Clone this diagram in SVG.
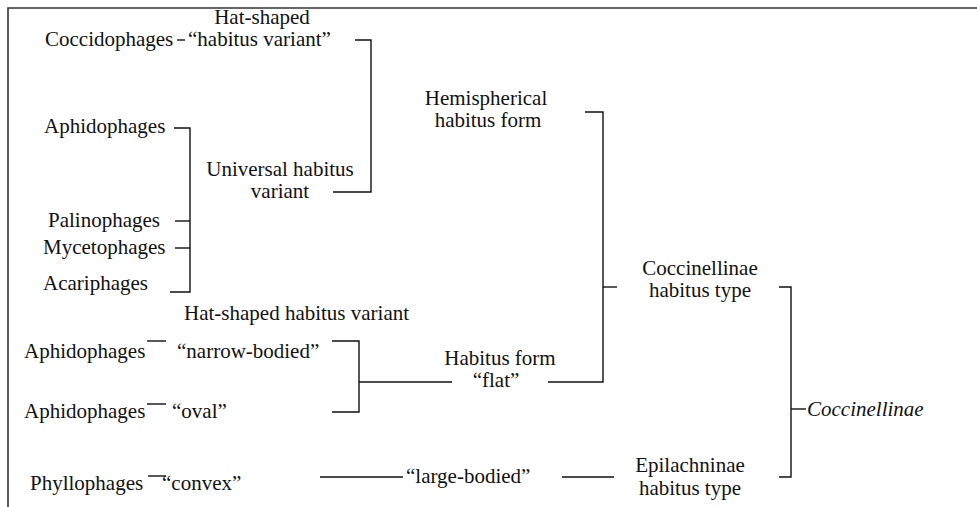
<svg xmlns="http://www.w3.org/2000/svg" width="977" height="507" viewBox="0 0 977 507" font-family="'Liberation Serif', 'Times New Roman', 'DejaVu Serif', serif">
<style>
text{font-family:'Liberation Serif','Times New Roman','DejaVu Serif',serif;font-size:21px;fill:#111}
.c{text-anchor:middle}
.i{font-style:italic}
.ln{stroke:#111;stroke-width:1.4;fill:none}
.fr{stroke:#333;stroke-width:1.6;fill:none}
</style>
<rect width="977" height="507" fill="#fff"/>
<path class="fr" d="M8,507 V8 H977"/>
<g id="n-hat-top"><text class="c" x="262" y="24">Hat-shaped</text><text x="188" y="46">“habitus variant”</text></g>
<g id="n-coccidophages"><text x="45" y="46">Coccidophages</text></g>
<g id="n-aphidophages1"><text x="44" y="133">Aphidophages</text></g>
<g id="n-universal"><text class="c" x="280" y="176">Universal habitus</text><text class="c" x="280" y="198">variant</text></g>
<g id="n-palinophages"><text x="48" y="227">Palinophages</text></g>
<g id="n-mycetophages"><text x="43" y="254">Mycetophages</text></g>
<g id="n-acariphages"><text x="43" y="290">Acariphages</text></g>
<g id="n-hat-bottom"><text x="184" y="320">Hat-shaped habitus variant</text></g>
<g id="n-aphidophages2"><text x="24" y="358">Aphidophages</text></g>
<g id="n-narrow"><text x="177" y="358">“narrow-bodied”</text></g>
<g id="n-aphidophages3"><text x="24" y="418">Aphidophages</text></g>
<g id="n-oval"><text x="172" y="418">“oval”</text></g>
<g id="n-phyllophages"><text x="30" y="490">Phyllophages</text></g>
<g id="n-convex"><text x="162" y="490">“convex”</text></g>
<g id="n-large"><text x="406" y="483">“large-bodied”</text></g>
<g id="n-hemispherical"><text class="c" x="486" y="105">Hemispherical</text><text class="c" x="488" y="127">habitus form</text></g>
<g id="n-flat"><text class="c" x="500" y="365">Habitus form</text><text class="c" x="496" y="387">“flat”</text></g>
<g id="n-coccinellinae-type"><text class="c" x="700" y="275">Coccinellinae</text><text class="c" x="700" y="297">habitus type</text></g>
<g id="n-epilachninae"><text class="c" x="690" y="472">Epilachninae</text><text class="c" x="690" y="495">habitus type</text></g>
<g id="n-coccinellinae"><text class="i" x="807" y="416">Coccinellinae</text></g>
<g id="connectors" class="ln">
<path d="M177,40 H185"/>
<path d="M355,40 H371 V192 H333"/>
<path d="M174,128 H190 V292 H170"/>
<path d="M175,221 H190"/>
<path d="M175,248 H190"/>
<path d="M147,341 H166"/>
<path d="M147,404 H166"/>
<path d="M332,341 H359 V412 H332"/>
<path d="M359,382 H452"/>
<path d="M585,112 H603 V382 H548"/>
<path d="M603,287 H617"/>
<path d="M148,476 H166"/>
<path d="M320,477 H403"/>
<path d="M562,477 H614"/>
<path d="M779,287 H791 V477 H779"/>
<path d="M791,409 H806"/>
</g>
</svg>
